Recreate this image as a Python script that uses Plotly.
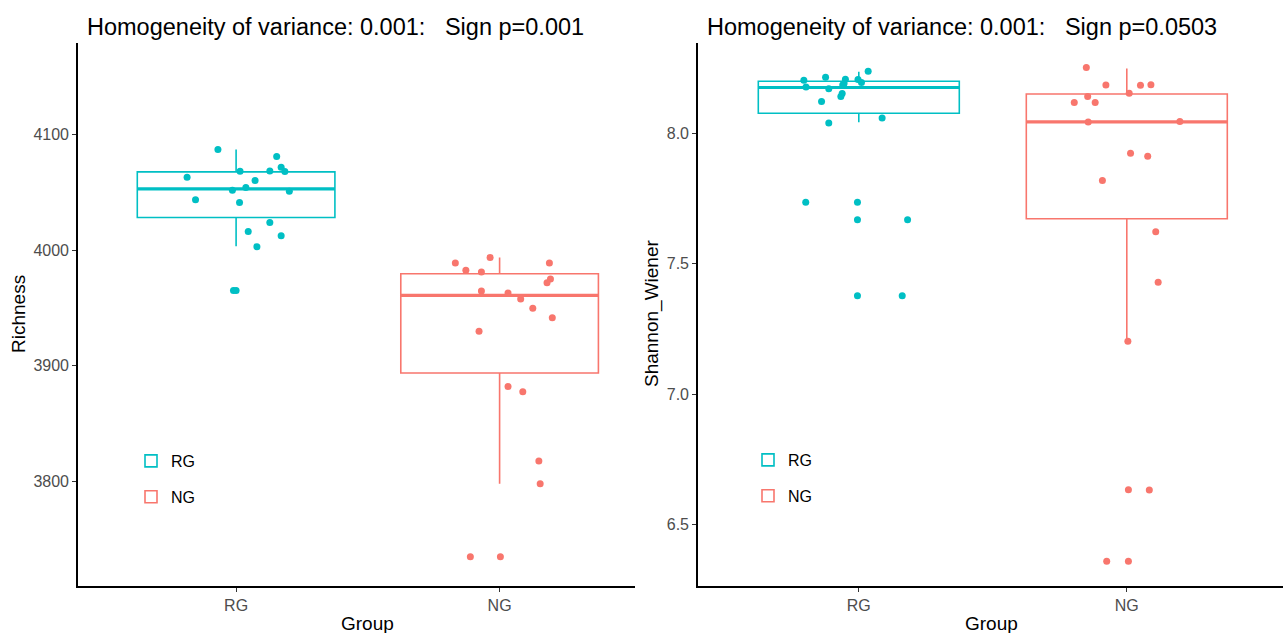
import plotly.graph_objects as go

# ---------------- data ----------------
groups = ["RG", "NG"]
colors = {"RG": "#00BFC4", "NG": "#F8766D"}

# Richness points and their horizontal jitter (in category units)
rich_rg = [4086.8, 4080.8, 4062.9, 4068.1, 4068.4, 4071.6, 4067.8, 4060.1, 4054.0, 4051.7,
           4050.9, 4043.4, 4041.1, 4023.9, 4016.1, 4012.3, 4002.9, 3965.2, 3965.2]
rich_rg_jit = [-0.069, 0.154, -0.186, 0.015, 0.128, 0.171, 0.185, 0.072, 0.037, -0.014,
               0.202, -0.154, 0.013, 0.128, 0.046, 0.171, 0.079, -0.010, 0.000]
rich_ng = [3993.7, 3988.8, 3988.8, 3982.5, 3981.0, 3975.0, 3971.8, 3964.7, 3962.9, 3957.8,
           3949.7, 3941.6, 3929.9, 3882.2, 3877.6, 3817.8, 3798.3, 3735.1, 3735.1]
rich_ng_jit = [-0.036, -0.168, 0.189, -0.128, -0.069, 0.193, 0.180, -0.069, 0.032, 0.080,
               0.126, 0.200, -0.078, 0.032, 0.088, 0.149, 0.154, -0.111, 0.003]

# Shannon_Wiener points and jitter
shan_rg = [8.239, 8.205, 8.216, 8.209, 8.208, 8.196, 8.179, 8.172, 8.187, 8.192, 8.154,
           8.142, 8.123, 8.041, 8.060, 7.736, 7.736, 7.669, 7.669, 7.377, 7.377]
shan_rg_jit = [0.035, -0.205, -0.124, -0.050, -0.003, 0.010, -0.197, -0.112, -0.060, -0.055,
               -0.062, -0.067, -0.139, -0.112, 0.087, -0.198, -0.005, -0.005, 0.182, -0.005, 0.162]
shan_ng = [8.254, 8.187, 8.186, 8.188, 8.155, 8.142, 8.119, 8.119, 8.045, 8.046, 7.925,
           7.913, 7.820, 7.623, 7.429, 7.203, 6.633, 6.632, 6.358, 6.358]
shan_ng_jit = [-0.151, -0.078, 0.051, 0.090, 0.009, -0.146, -0.196, -0.118, -0.144, 0.198,
               0.014, 0.078, -0.091, 0.108, 0.117, 0.004, 0.006, 0.084, -0.075, 0.006]

# Box statistics: lower whisker, q1, median, q3, upper whisker
rich_box = {"RG": [4003.4, 4028.2, 4052.8, 4067.5, 4086.8],
            "NG": [3798.3, 3893.9, 3960.9, 3979.6, 3993.7]}
shan_box = {"RG": [8.044, 8.078, 8.177, 8.201, 8.237],
            "NG": [7.203, 7.673, 8.045, 8.152, 8.250]}

titles = ["Homogeneity of variance: 0.001:\u00a0\u00a0\u00a0Sign p=0.001",
          "Homogeneity of variance: 0.001:\u00a0\u00a0\u00a0Sign p=0.0503"]
ytitles = ["Richness", "Shannon_Wiener"]
rich_ticks = [3800, 3900, 4000, 4100]
shan_ticks = [6.5, 7.0, 7.5, 8.0]

# ---------------- figure ----------------
W, H = 1283, 633
FONT = "Arial, Liberation Sans, sans-serif"
BOXW = 0.75

fig = go.Figure()


def add_panel(xa, ya, legend, box, pts):
    for gi, g in enumerate(groups):
        lo, q1, med, q3, hi = box[g]
        fig.add_trace(go.Box(
            x=[gi + 1], q1=[q1], median=[med], q3=[q3], lowerfence=[lo], upperfence=[hi],
            width=BOXW, whiskerwidth=0, boxpoints=False,
            line=dict(color=colors[g], width=1.6), fillcolor="rgba(255,255,255,0)",
            name=g, legend=legend, legendgroup=g + legend, showlegend=True,
            xaxis=xa, yaxis=ya, hoverinfo="skip"))
        # thicker median line (ggplot fatten)
        fig.add_trace(go.Scatter(
            x=[gi + 1 - BOXW / 2, gi + 1 + BOXW / 2], y=[med, med], mode="lines",
            line=dict(color=colors[g], width=3.2), showlegend=False,
            xaxis=xa, yaxis=ya, hoverinfo="skip"))
    for gi, g in enumerate(groups):
        vals, jit = pts[g]
        fig.add_trace(go.Scatter(
            x=[gi + 1 + j for j in jit], y=vals, mode="markers",
            marker=dict(color=colors[g], size=7, line=dict(width=0)),
            showlegend=False, xaxis=xa, yaxis=ya, hoverinfo="skip"))


add_panel("x", "y", "legend", rich_box,
          {"RG": (rich_rg, rich_rg_jit), "NG": (rich_ng, rich_ng_jit)})
add_panel("x2", "y2", "legend2", shan_box,
          {"RG": (shan_rg, shan_rg_jit), "NG": (shan_ng, shan_ng_jit)})


def px(x):
    return x / W


def py(y):
    return (H - y) / H


axis_common = dict(showline=True, linecolor="black", linewidth=1.6, ticks="outside",
                   ticklen=4, tickwidth=1.2, tickcolor="#333333", showgrid=False,
                   zeroline=False, tickfont=dict(family=FONT, size=16, color="#4D4D4D"))

leg_common = dict(xanchor="left", yanchor="top", bgcolor="rgba(0,0,0,0)",
                  font=dict(family=FONT, size=16, color="black"),
                  tracegroupgap=12, traceorder="grouped")

fig.update_layout(
    width=W, height=H, margin=dict(l=0, r=0, t=0, b=0),
    paper_bgcolor="white", plot_bgcolor="white",
    font=dict(family=FONT),
    xaxis=dict(domain=[px(78), px(635)], range=[0.4, 0.4 + 557 / 263.5], anchor="y",
               tickvals=[1, 2], ticktext=groups, **axis_common),
    yaxis=dict(domain=[py(586), py(42.7)], range=[3709.9, 4179.1], anchor="x",
               tickvals=rich_ticks, **axis_common),
    xaxis2=dict(domain=[px(698), 1.0], range=[0.4, 0.4 + 585 / 268.0], anchor="y2",
                tickvals=[1, 2], ticktext=groups, **axis_common),
    yaxis2=dict(domain=[py(586), py(42.7)], range=[6.263, 8.349], anchor="x2",
                tickvals=shan_ticks, tickformat=".1f", **axis_common),
    legend=dict(x=px(131), y=py(444), **leg_common),
    legend2=dict(x=px(748), y=py(443), **leg_common),
)

ann = []
for t, x0 in zip(titles, [85, 705]):
    ann.append(dict(text=t, x=px(x0), y=py(27), xref="paper", yref="paper",
                    xanchor="left", yanchor="middle", showarrow=False,
                    font=dict(family=FONT, size=23.5, color="black")))
for t, x0 in zip(ytitles, [18, 652]):
    ann.append(dict(text=t, x=px(x0), y=py(314), xref="paper", yref="paper",
                    xanchor="center", yanchor="middle", textangle=-90, showarrow=False,
                    font=dict(family=FONT, size=19, color="black")))
for x0 in [367, 991]:
    ann.append(dict(text="Group", x=px(x0), y=py(623), xref="paper", yref="paper",
                    xanchor="center", yanchor="middle", showarrow=False,
                    font=dict(family=FONT, size=19, color="black")))
fig.update_layout(annotations=ann)

fig.write_html("out.html")
